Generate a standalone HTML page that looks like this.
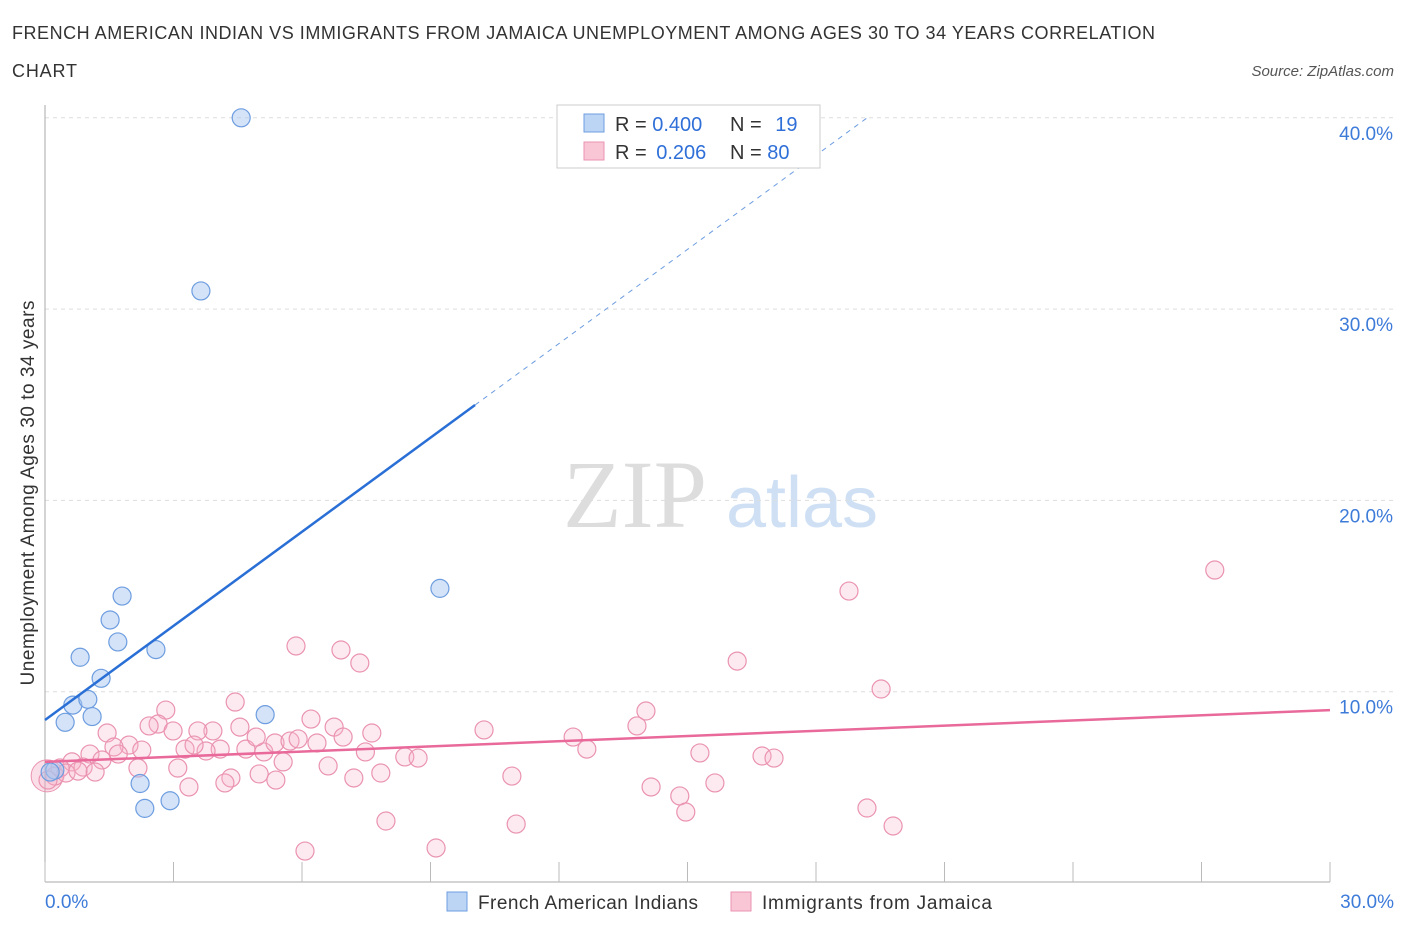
<!DOCTYPE html>
<html><head><meta charset="utf-8"><style>
body{margin:0;background:#fff;font-family:"Liberation Sans",sans-serif;}
svg{display:block}
</style></head><body>
<svg width="1406" height="930">
<text x="12" y="39" font-size="18" fill="#333" textLength="1143" lengthAdjust="spacing">FRENCH AMERICAN INDIAN VS IMMIGRANTS FROM JAMAICA UNEMPLOYMENT AMONG AGES 30 TO 34 YEARS CORRELATION</text>
<text x="12" y="77" font-size="18" fill="#333" textLength="65" lengthAdjust="spacing">CHART</text>
<text x="1394" y="76" font-size="15" fill="#555" font-style="italic" text-anchor="end">Source: ZipAtlas.com</text>
<text x="635" y="527" font-size="96" fill="#ddd" font-family="Liberation Serif,serif" text-anchor="middle">ZIP</text>
<text x="802" y="527" font-size="72" fill="#cfe0f5" text-anchor="middle">atlas</text>
<g id="grid"></g>
<g id="axes"></g>
<g id="marks"></g>
<text transform="translate(34,493) rotate(-90)" font-size="19" fill="#333" text-anchor="middle" textLength="385" lengthAdjust="spacing">Unemployment Among Ages 30 to 34 years</text>
<g>
<rect x="557" y="105" width="263" height="63" fill="#fff" stroke="#ccc"/>
<rect x="584" y="114" width="20" height="18" fill="#bcd5f5" stroke="#6d9de0"/>
<rect x="584" y="142" width="20" height="18" fill="#f9c6d6" stroke="#ea93b0"/>
<text x="615" y="131" font-size="20" fill="#333">R = <tspan fill="#2f6fd8">0.400</tspan></text>
<text x="730" y="131" font-size="20" fill="#333">N = <tspan fill="#2f6fd8" dx="8">19</tspan></text>
<text x="615" y="159" font-size="20" fill="#333">R = <tspan fill="#2f6fd8" dx="4">0.206</tspan></text>
<text x="730" y="159" font-size="20" fill="#333">N = <tspan fill="#2f6fd8">80</tspan></text>
</g>
<g>
<rect x="447" y="892" width="20" height="19" fill="#bcd5f5" stroke="#6d9de0"/>
<text x="478" y="909" font-size="19" fill="#333" textLength="220" lengthAdjust="spacing">French American Indians</text>
<rect x="731" y="892" width="20" height="19" fill="#f9c6d6" stroke="#ea93b0"/>
<text x="762" y="909" font-size="19" fill="#333" textLength="230" lengthAdjust="spacing">Immigrants from Jamaica</text>
</g>
</svg>
<script>
const blueX=[4.58,3.64,1.80,1.52,1.70,2.59,0.82,1.31,0.65,1.0,1.10,0.47,5.14,9.22,2.22,2.92,2.33,0.23,0.12];
const blueY=[40.0,30.95,15.0,13.75,12.6,12.2,11.8,10.7,9.3,9.6,8.7,8.4,8.8,15.4,5.2,4.3,3.9,5.9,5.8];
const pinkX=[27.31,18.77,16.16,19.52,5.86,6.91,7.35,4.44,2.82,2.64,2.43,14.03,13.82,10.25,6.21,6.75,7.63,6.96,4.55,3.92,3.57,2.99,1.45,12.33,12.65,15.29,16.74,17.02,1.96,1.61,1.05,1.71,2.26,3.27,4.09,4.69,5.11,5.37,5.72,5.91,6.35,4.93,3.76,3.48,7.48,8.40,8.71,1.33,0.63,0.89,1.17,2.17,3.10,5.56,6.61,7.84,7.21,5.0,5.39,4.34,4.20,3.36,10.9,14.15,14.82,14.96,15.64,19.19,19.8,7.96,11.0,9.13,6.07,0.35,0.23,0.07,0.49,0.77];
const pinkY=[16.36,15.26,11.6,10.14,12.39,12.18,11.5,9.46,9.04,8.31,8.21,8.99,8.21,8.0,8.57,8.15,7.84,7.63,8.15,7.95,7.95,7.95,7.84,7.63,7.0,6.8,6.64,6.53,7.21,7.11,6.74,6.74,6.95,7.0,7.0,7.0,6.85,7.32,7.42,7.53,7.32,7.63,6.9,7.21,6.85,6.59,6.53,6.43,6.33,6.06,5.8,6.01,6.01,6.33,6.12,5.75,5.49,5.7,5.38,5.49,5.23,5.02,5.59,5.02,4.55,3.71,5.23,3.92,2.98,3.24,3.08,1.83,1.67,6.01,5.59,5.38,5.75,5.85];
const yTicks=[10,20,30,40];
const yTickLabels=["10.0%","20.0%","30.0%","40.0%"];
const xTickLabels=["0.0%","30.0%"];
const blueTrend=[8.52,1.64]; // intercept, slope
const pinkTrend=[6.33,0.0903];
const NS="http://www.w3.org/2000/svg";
const X=v=>45+v/30*1285, Y=v=>883-v*19.13;
function mk(p,tag,a){const e=document.createElementNS(NS,tag);for(const k in a)e.setAttribute(k,a[k]);p.appendChild(e);return e;}
const grid=document.getElementById('grid'),axes=document.getElementById('axes'),marks=document.getElementById('marks');
yTicks.forEach((t,i)=>{
 const l=mk(grid,'line',{x1:45,x2:1395,y1:Y(t),y2:Y(t),stroke:'#ddd','stroke-dasharray':'4,4'});
 
 
 const tx=mk(axes,'text',{x:1393,y:Y(t)+22,'font-size':19,fill:'#3d7bd9','text-anchor':'end'});tx.textContent=yTickLabels[i];
 
 
});
const ax=mk(axes,'line',{x1:45,x2:45,y1:105,y2:882,stroke:'#aaa'});


const bx=mk(axes,'line',{x1:45,x2:1330,y1:882,y2:882,stroke:'#aaa'});


for(let i=0;i<=10;i++){const t=mk(axes,'line',{x1:X(i*3),x2:X(i*3),y1:862,y2:882,stroke:'#bbb'});
 
 }
[[0,'start',45],[1,'end',1394]].forEach(([i,a,x])=>{const t=mk(axes,'text',{x:x,y:908,'font-size':19,fill:'#3d7bd9','text-anchor':a});t.textContent=xTickLabels[i];
 
 });
const big=mk(marks,'circle',{cx:X(0.05),cy:Y(5.6),r:16,fill:'rgba(240,150,180,0.3)',stroke:'#ea93b0'});


pinkX.forEach((x,i)=>{const c=mk(marks,'circle',{cx:X(x),cy:Y(pinkY[i]),r:9,fill:'rgba(248,180,200,0.28)',stroke:'#ea93b0','stroke-width':1.2});
 
 });
blueX.forEach((x,i)=>{const c=mk(marks,'circle',{cx:X(x),cy:Y(blueY[i]),r:9,fill:'rgba(170,200,240,0.5)',stroke:'#6d9de0','stroke-width':1.2});
 
 });
const bt=mk(marks,'line',{x1:X(0),y1:Y(blueTrend[0]),x2:X(10.04),y2:Y(blueTrend[0]+blueTrend[1]*10.04),stroke:'#2a6fd6','stroke-width':2.5});


const bd=mk(marks,'line',{x1:X(10.04),y1:Y(blueTrend[0]+blueTrend[1]*10.04),x2:X(19.2),y2:Y(blueTrend[0]+blueTrend[1]*19.2),stroke:'#6d9de0','stroke-width':1,'stroke-dasharray':'5,5'});


const pt=mk(marks,'line',{x1:X(0),y1:Y(pinkTrend[0]),x2:X(30),y2:Y(pinkTrend[0]+pinkTrend[1]*30),stroke:'#e8699a','stroke-width':2.5});


</script>
</body></html>
